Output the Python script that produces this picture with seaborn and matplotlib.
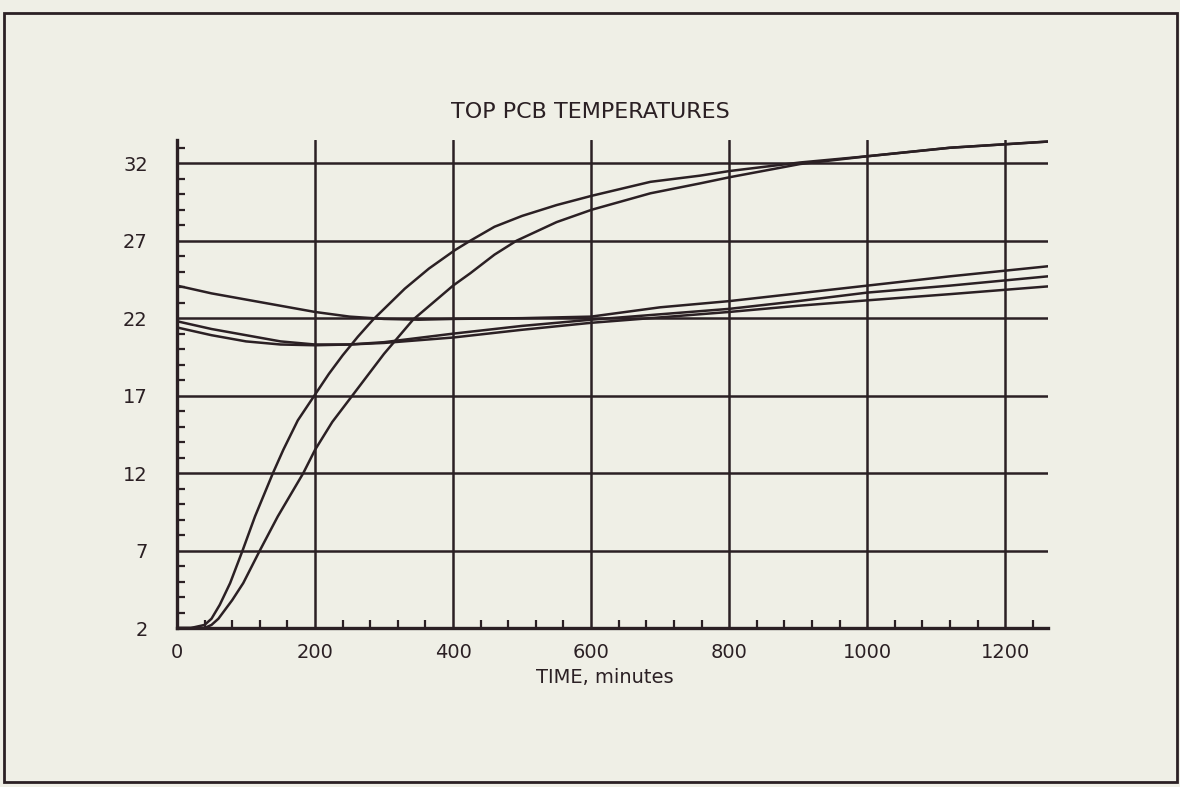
import numpy as np
import matplotlib.pyplot as plt
import seaborn as sns
import pandas as pd
from matplotlib.patches import Rectangle
from matplotlib.ticker import MultipleLocator

#curves (time in minutes, temperature)
s1_time = [0, 20, 40, 50, 62, 77, 95, 113, 139, 154, 175, 199, 220, 240, 262, 284, 330, 365, 403, 425, 460, 500, 550, 601, 686, 758, 801, 903, 1000, 1120, 1262]
s1_temp = [2.0, 2.0, 2.2, 2.6, 3.5, 4.9, 7.0, 9.2, 12.0, 13.5, 15.4, 17.0, 18.4, 19.6, 20.8, 21.9, 23.9, 25.2, 26.4, 27.0, 27.9, 28.6, 29.3, 29.9, 30.8, 31.2, 31.5, 32.05, 32.45, 33.0, 33.4]

s2_time = [0, 40, 50, 60, 70, 80, 96, 120, 146, 183, 200, 225, 254, 300, 342, 400, 425, 460, 492, 550, 601, 686, 758, 801, 903, 1000, 1120, 1262]
s2_temp = [2.0, 2.0, 2.2, 2.6, 3.2, 3.8, 4.9, 7.0, 9.2, 12.0, 13.5, 15.3, 17.0, 19.7, 21.9, 24.1, 24.9, 26.1, 27.0, 28.2, 29.0, 30.06, 30.7, 31.1, 31.95, 32.45, 33.0, 33.4]

a_time = [0, 50, 100, 150, 200, 250, 300, 350, 400, 500, 600, 700, 800, 900, 1000, 1120, 1262]
a_temp = [24.1, 23.6, 23.2, 22.8, 22.4, 22.1, 21.95, 21.9, 21.95, 22.0, 22.1, 22.7, 23.1, 23.6, 24.1, 24.7, 25.35]

b_time = [0, 50, 100, 150, 200, 250, 300, 400, 500, 600, 700, 800, 900, 1000, 1120, 1262]
b_temp = [21.8, 21.3, 20.9, 20.5, 20.3, 20.3, 20.45, 21.0, 21.5, 21.9, 22.25, 22.6, 23.1, 23.65, 24.1, 24.7]

c_time = [0, 50, 100, 150, 200, 250, 300, 400, 500, 600, 700, 800, 900, 1000, 1120, 1262]
c_temp = [21.4, 20.9, 20.5, 20.3, 20.25, 20.3, 20.4, 20.75, 21.25, 21.7, 22.05, 22.4, 22.8, 23.15, 23.55, 24.05]

x_ticks = [0, 200, 400, 600, 800, 1000, 1200]
y_ticks = [2, 7, 12, 17, 22, 27, 32]

frames = []
for name, t, v in [('s1', s1_time, s1_temp), ('s2', s2_time, s2_temp),
                   ('a', a_time, a_temp), ('b', b_time, b_temp), ('c', c_time, c_temp)]:
    frames.append(pd.DataFrame({'time': t, 'temp': v, 'sensor': name}))
df = pd.concat(frames, ignore_index=True)

ink = '#2b2024'
paper = '#efefe6'

sns.set_style('white')
plt.rcParams['font.family'] = ['DejaVu Sans']

fig = plt.figure(figsize=(11.8, 7.87), dpi=100, facecolor=paper)
ax = fig.add_axes([177/1180, 1-628/787, (1048-177)/1180, (628-140)/787])
ax.set_facecolor(paper)

sns.lineplot(data=df, x='time', y='temp', hue='sensor',
             palette=[ink]*5, legend=False, linewidth=1.8, ax=ax, sort=False,
             estimator=None)

ax.set_xlim(0, 1262)
ax.set_ylim(2, 33.5)
ax.set_xticks(x_ticks)
ax.set_yticks(y_ticks)
ax.xaxis.set_minor_locator(MultipleLocator(40))
ax.yaxis.set_minor_locator(MultipleLocator(1))
ax.grid(True, which='major', color=ink, linewidth=1.8)
ax.set_axisbelow(True)

for side in ['top', 'right']:
    ax.spines[side].set_visible(False)
for side in ['left', 'bottom']:
    ax.spines[side].set_color(ink)
    ax.spines[side].set_linewidth(2.4)

ax.tick_params(which='both', bottom=True, left=True, top=False, right=False)
ax.tick_params(which='major', length=0, labelsize=14, labelcolor=ink)
ax.tick_params(axis='y', which='major', pad=21)
ax.tick_params(axis='x', which='major', pad=11)
ax.tick_params(which='minor', direction='in', length=6, width=1.6, color=ink)

ax.set_xlabel('TIME, minutes', fontsize=14, color=ink)
ax.set_ylabel('')
ax.xaxis.set_label_coords(0.491, -0.082)

fig.text(590/1180, 1-112/787, 'TOP PCB TEMPERATURES', ha='center', va='center',
         fontsize=16, color=ink)

#scanned page frame
fig.add_artist(Rectangle((4/1180, 1-782/787), (1177-4)/1180, (782-13)/787,
                         transform=fig.transFigure, fill=False, edgecolor=ink,
                         linewidth=2))

fig.savefig('out.png', dpi=100, facecolor=paper)
